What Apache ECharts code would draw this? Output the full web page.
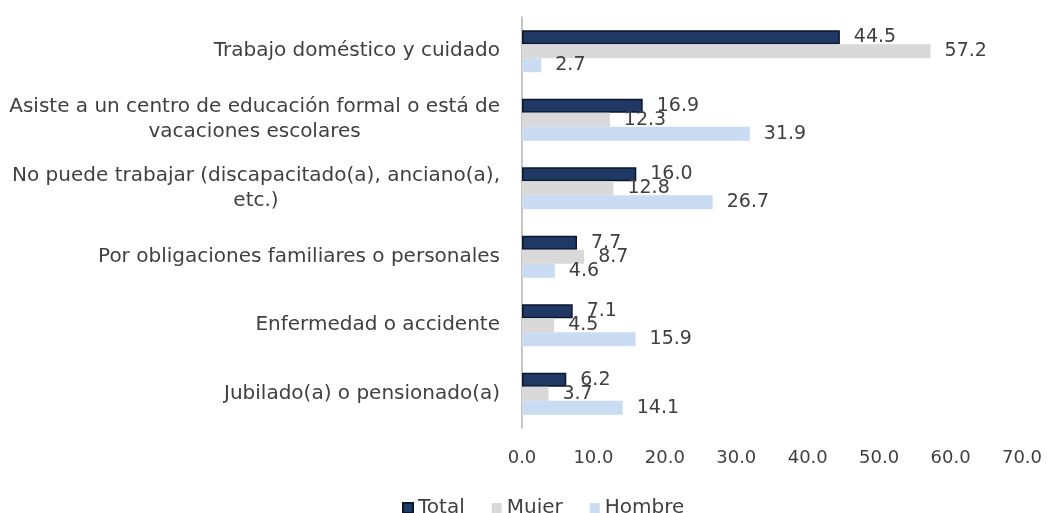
<!DOCTYPE html>
<html lang="es">
<head>
    <meta charset="UTF-8">
    <title>Razones de inactividad</title>
    <script src="https://cdn.jsdelivr.net/npm/echarts@6/dist/echarts.min.js"></script>
    <style>
        html, body { margin: 0; padding: 0; background: #fff; }
        #chart { width: 1047px; height: 513px; }
    </style>
</head>
<body>
    <div id="chart"></div>
    <script>
        // categorías (de arriba a abajo)
        var categories = [
            'Trabajo doméstico y cuidado',
            'Asiste a un centro de educación formal o está de\nvacaciones escolares',
            'No puede trabajar (discapacitado(a), anciano(a),\netc.)',
            'Por obligaciones familiares o personales',
            'Enfermedad o accidente',
            'Jubilado(a) o pensionado(a)'
        ];
        var seriesNames = ['Total', 'Mujer', 'Hombre'];
        var total = [44.5, 16.9, 16.0, 7.7, 7.1, 6.2];
        var mujer = [57.2, 12.3, 12.8, 8.7, 4.5, 3.7];
        var hombre = [2.7, 31.9, 26.7, 4.6, 15.9, 14.1];
        var xTicks = [0, 10, 20, 30, 40, 50, 60, 70];

        var font = 'DejaVu Sans';
        var textColor = '#404040';

        function barSeries(name, data, color, border) {
            return {
                name: name,
                type: 'bar',
                data: data,
                barWidth: 14,
                barGap: '0%',
                itemStyle: {
                    color: color,
                    borderColor: border || color,
                    borderWidth: border ? 1.5 : 0
                },
                label: {
                    show: true,
                    position: 'right',
                    distance: 14,
                    fontFamily: font,
                    fontSize: 19,
                    color: textColor,
                    formatter: function (p) { return p.value.toFixed(1); }
                }
            };
        }

        var myChart = echarts.init(document.getElementById('chart'));
        var option = {
            animation: false,
            textStyle: { fontFamily: font },
            grid: { left: 522, right: 25, top: 17, bottom: 85 },
            legend: {
                data: seriesNames,
                left: 397,
                top: 493,
                itemWidth: 10,
                itemHeight: 10,
                itemGap: 27,
                icon: 'rect',
                textStyle: { fontFamily: font, fontSize: 20, color: textColor }
            },
            xAxis: {
                type: 'value',
                min: xTicks[0],
                max: xTicks[xTicks.length - 1],
                interval: 10,
                axisLine: { show: false },
                axisTick: { show: false },
                splitLine: { show: false },
                axisLabel: {
                    margin: 21,
                    fontFamily: font,
                    fontSize: 18,
                    color: textColor,
                    formatter: function (v) { return v.toFixed(1); }
                }
            },
            yAxis: {
                type: 'category',
                data: categories,
                inverse: true,
                axisLine: { show: true, lineStyle: { color: '#b3b3b3', width: 1.5 } },
                axisTick: { show: false },
                axisLabel: {
                    margin: 22,
                    fontFamily: font,
                    fontSize: 20,
                    color: textColor,
                    formatter: function (v) {
                        return v.split('\n').map(function (s) { return '{c|' + s + '}'; }).join('\n');
                    },
                    rich: {
                        c: { align: 'center', fontFamily: font, fontSize: 20, color: textColor, lineHeight: 25 }
                    }
                }
            },
            series: [
                barSeries(seriesNames[0], total, '#1f3864', '#0b1633'),
                barSeries(seriesNames[1], mujer, '#d9d9d9'),
                barSeries(seriesNames[2], hombre, '#c9dcf2')
            ]
        };
        myChart.setOption(option);
    </script>
</body>
</html>
